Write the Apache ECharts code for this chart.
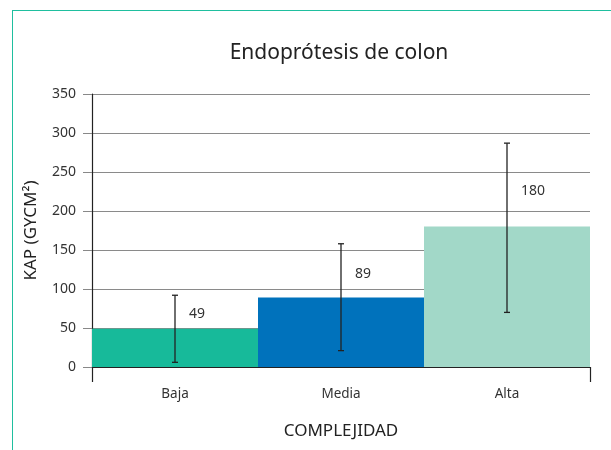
<!DOCTYPE html>
<html>
<head>
<meta charset="utf-8">
<script src="https://cdn.jsdelivr.net/npm/echarts@6/dist/echarts.min.js"></script>
<style>
  body { margin: 0; background: #fff; }
  #wrap { position: relative; width: 611px; height: 450px; }
  #main { width: 611px; height: 450px; }
  /* marco verde de la ficha */
  .marco {
    position: absolute; left: 12px; top: 10px; right: 0; bottom: 0;
    border-left: 1.5px solid #1fbf9f; border-top: 1.5px solid #1fbf9f;
    pointer-events: none;
  }
</style>
</head>
<body>
<div id="wrap">
  <div id="main"></div>
  <div class="marco"></div>
</div>
<script>
// datos
var categorias = ["Baja", "Media", "Alta"];
var valores = [49, 89, 180];
var errorBajo = [6, 21, 70];
var errorAlto = [92, 158, 287];
var colores = ["#17ba9a", "#0072bc", "#a2d8c8"];
var ticksY = [0, 50, 100, 150, 200, 250, 300, 350];

var fuente = "Noto Sans";
var myChart = echarts.init(document.getElementById("main"));

var barras = valores.map(function (v, i) {
  return { value: v, itemStyle: { color: colores[i] } };
});
var errores = valores.map(function (v, i) {
  return [i, errorBajo[i], errorAlto[i], v];
});

myChart.setOption({
  animation: false,
  textStyle: { fontFamily: fuente },
  title: {
    text: "Endoprótesis de colon",
    left: 334,
    top: 38,
    textAlign: "center",
    textStyle: { fontFamily: fuente, fontSize: 21, fontWeight: "normal", color: "#222" }
  },
  grid: { left: 92, right: 21, top: 94, bottom: 83 },
  xAxis: {
    type: "category",
    data: categorias,
    name: "COMPLEJIDAD",
    nameLocation: "middle",
    nameGap: 56,
    nameTextStyle: { fontFamily: fuente, fontSize: 17, color: "#222" },
    axisLine: { lineStyle: { color: "#222", width: 1.2 } },
    axisTick: {
      show: true,
      inside: false,
      length: 15,
      interval: function (i) { return i === 0; },
      lineStyle: { color: "#222", width: 1.2 }
    },
    axisLabel: { fontFamily: fuente, fontSize: 13.5, color: "#333", margin: 20 }
  },
  yAxis: {
    type: "value",
    min: ticksY[0],
    max: ticksY[ticksY.length - 1],
    interval: 50,
    name: "KAP (GYCM²)",
    nameLocation: "middle",
    nameGap: 52,
    nameTextStyle: { fontFamily: fuente, fontSize: 17, color: "#222" },
    axisLine: { show: true, lineStyle: { color: "#222", width: 1.2 } },
    axisTick: { show: true, length: 9, lineStyle: { color: "#888" } },
    axisLabel: { fontFamily: fuente, fontSize: 14, color: "#333", margin: 16 },
    splitLine: { lineStyle: { color: "#8a8a8a", width: 1 } }
  },
  series: [
    {
      type: "bar",
      data: barras,
      barCategoryGap: "0%",
      z: 2
    },
    {
      type: "custom",
      data: errores,
      z: 5,
      renderItem: function (params, api) {
        var i = api.value(0);
        var pBajo = api.coord([i, api.value(1)]);
        var pAlto = api.coord([i, api.value(2)]);
        // etiqueta entre la barra y el extremo superior
        var medio = api.value(3) + (api.value(2) - api.value(3)) * 0.43;
        var pTexto = api.coord([i, medio]);
        var w = 3;
        var estilo = { stroke: "#222", lineWidth: 1.3 };
        return {
          type: "group",
          children: [
            { type: "line", shape: { x1: pBajo[0], y1: pBajo[1], x2: pAlto[0], y2: pAlto[1] }, style: estilo },
            { type: "line", shape: { x1: pBajo[0] - w, y1: pBajo[1], x2: pBajo[0] + w, y2: pBajo[1] }, style: estilo },
            { type: "line", shape: { x1: pAlto[0] - w, y1: pAlto[1], x2: pAlto[0] + w, y2: pAlto[1] }, style: estilo },
            {
              type: "text",
              x: pTexto[0] + 14,
              y: pTexto[1],
              style: {
                text: String(api.value(3)),
                fill: "#333",
                font: "14px " + fuente,
                verticalAlign: "middle"
              }
            }
          ]
        };
      }
    }
  ]
});
</script>
</body>
</html>
